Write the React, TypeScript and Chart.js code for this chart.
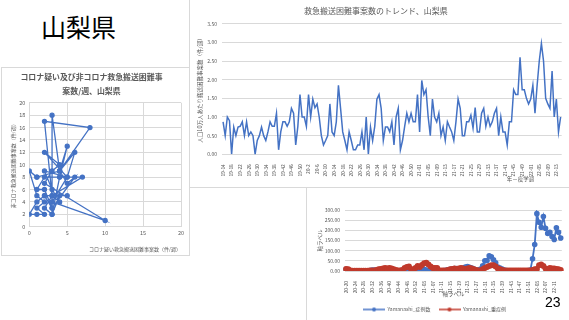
import React, { useEffect, useRef } from "react";
import { Chart, registerables } from "chart.js";
Chart.register(...registerables);

const FONT = '"Noto Sans CJK JP", "Noto Sans", sans-serif';
const TEXT = "#595959";
const GRID = "#d9d9d9";
const BLUE = "#4472C4";
const RED = "#C0392B";

// ---- Scatter: corona-suspected vs non-corona (cases / week) ----
const coronaSuspected = [1, 0, 1, 2, 1, 2, 1, 0, 1, 2, 3, 2, 1, 2, 4, 3, 2, 3, 4, 3, 2, 5, 3, 10, 2, 3, 4, 2, 5, 6, 4, 5, 4, 7, 3, 2, 8, 4, 3, 3, 4, 5, 2, 3, 6, 5, 4, 1];
const nonCorona = [8, 9, 5, 4, 3, 2, 2, 2, 4, 5, 3, 6, 6, 8, 8, 2, 3, 5, 4, 6, 9, 8, 4, 1, 7, 9, 10, 12, 8, 12, 9, 13, 8, 8, 5, 17, 16, 9, 18, 2, 5, 5, 5, 3, 8, 7, 9, 8];

// ---- Trend: per 100k population, weekly ----
const trendTickLabels = ["19-14", "19-18", "19-22", "19-26", "19-30", "19-34", "19-38", "19-42", "19-46", "19-50", "20-2", "20-6", "20-10", "20-14", "20-18", "20-22", "20-26", "20-30", "20-34", "20-38", "20-42", "20-46", "20-50", "21-01", "21-05", "21-09", "21-13", "21-17", "21-21", "21-25", "21-29", "21-33", "21-37", "21-41", "21-45", "21-49", "22-01", "22-05", "22-09", "22-13"];
const trendValues = [
  0.87, 0.5, 1.0, 0.9, 0.0, 0.73, 0.5, 0.73, 0.75, 0.87,
  0.5, 0.87, 0.5, 0.6, 0.5, 0.0, 0.37, 0.5, 0.73, 0.5,
  0.37, 0.6, 0.87, 0.75, 0.75, 1.1, 0.12, 0.6, 0.87, 0.87,
  0.75, 0.87, 1.23, 1.1, 0.25, 0.75, 1.6, 1.0, 1.0, 0.75,
  1.6, 1.0, 1.48, 1.25, 1.35, 1.0, 0.5, 0.25, 0.37, 0.5,
  1.35, 0.6, 0.5, 0.87, 1.85, 1.23, 0.6, 0.37, 0.12, 0.6,
  0.37, 0.12, 0.12, 0.25, 0.25, 0.6, 0.12, 1.0, 0.0, 0.73,
  0.37, 0.75, 1.48, 1.6, 1.23, 0.37, 0.73, 0.73, 0.6, 0.87,
  0.25, 1.0, 1.23, 0.12, 0.37, 0.75, 1.1, 0.87, 1.1, 0.87,
  0.87, 1.6, 0.6, 1.98, 1.6, 1.73, 1.0, 0.5, 1.48, 1.0,
  0.87, 1.1, 0.5, 0.73, 0.37, 0.87, 0.73, 0.6, 0.37, 0.87,
  1.48, 1.23, 0.5, 0.5, 0.87, 0.87, 1.05, 0.7, 1.25, 0.6,
  0.6, 1.1, 1.23, 0.75, 1.0, 0.75, 0.87, 1.1, 1.23, 0.5,
  1.0, 0.6, 0.6, 0.25, 0.87, 0.87, 1.73, 1.6, 1.6, 2.6,
  1.73, 1.73, 1.5, 1.35, 1.48, 1.85, 1.1, 1.85, 2.5, 2.97,
  2.5, 1.5, 1.35, 1.23, 2.23, 1.0, 1.48, 0.6, 1.0,
];

// ---- Cases vs severe cases ----
const caseTickLabels = ["20-20", "20-24", "20-28", "20-32", "20-36", "20-40", "20-44", "20-48", "20-52", "21-03", "21-07", "21-11", "21-15", "21-19", "21-23", "21-27", "21-31", "21-35", "21-39", "21-43", "21-47", "21-51", "22-03", "22-07", "22-11"];
const cases = [
  8, 2, 0, 0, 0, 0, 0, 0, 0, 0,
  0, 2, 5, 5, 3, 3, 6, 5, 3, 2,
  1, 0, 0, 0, 0, 2, 3, 5, 8, 3,
  2, 5, 10, 8, 15, 12, 8, 5, 3, 2,
  2, 1, 0, 0, 0, 2, 4, 6, 8, 10,
  12, 12, 10, 12, 15, 20, 22, 18, 15, 10,
  5, 5, 10, 25, 50, 52, 75, 70, 55, 40,
  20, 15, 10, 5, 2, 0, 0, 0, 0, 0,
  0, 0, 0, 0, 2, 5, 60, 130, 282, 240,
  215, 268, 210, 185, 190, 170, 155, 213, 190, 162,
];
const severe = [
  10, 8, 2, 1, 1, 1, 1, 1, 1, 1,
  1, 2, 3, 3, 5, 8, 10, 12, 15, 12,
  15, 12, 8, 5, 3, 3, 5, 15, 20, 22,
  10, 3, 15, 25, 20, 30, 38, 40, 32, 22,
  15, 15, 15, 3, 2, 2, 2, 5, 8, 10,
  12, 10, 12, 15, 12, 10, 12, 15, 12, 8,
  5, 3, 3, 8, 15, 20, 25, 28, 28, 22,
  12, 8, 5, 3, 2, 2, 2, 2, 2, 2,
  2, 2, 2, 2, 2, 2, 5, 8, 10, 28,
  32, 25, 12, 10, 15, 12, 12, 10, 8, 5,
];

function weekLabels(ticks: string[], n: number): string[] {
  const out: string[] = [];
  for (let i = 0; i < n; i++) out.push(i % 4 === 0 && ticks[i / 4] ? ticks[i / 4] : "");
  return out;
}

function legendIcon(color: string): HTMLCanvasElement {
  const c = document.createElement("canvas");
  c.width = 22;
  c.height = 6;
  const ctx = c.getContext("2d")!;
  ctx.strokeStyle = color;
  ctx.lineWidth = 1.5;
  ctx.beginPath();
  ctx.moveTo(0, 3);
  ctx.lineTo(22, 3);
  ctx.stroke();
  ctx.fillStyle = color;
  ctx.beginPath();
  ctx.arc(11, 3, 2, 0, Math.PI * 2);
  ctx.fill();
  return c;
}

const font = (size: number, weight: any = "normal") => ({ family: FONT, size, weight, lineHeight: 1.3 });

function ScatterChart() {
  const ref = useRef<HTMLCanvasElement>(null);
  useEffect(() => {
    const pts = coronaSuspected.map((x, i) => ({ x, y: nonCorona[i] }));
    const chart = new Chart(ref.current!, {
      type: "scatter",
      data: {
        datasets: [
          {
            data: pts,
            showLine: true,
            borderColor: BLUE,
            backgroundColor: BLUE,
            borderWidth: 1.3,
            pointRadius: 2,
          },
        ],
      },
      options: {
        responsive: false,
        animation: false,
        events: [],
        layout: { padding: { left: 0, right: 8, top: 0, bottom: 0 } },
        plugins: {
          legend: { display: false },
          tooltip: { enabled: false },
          title: {
            display: true,
            text: ["コロナ疑い及び非コロナ救急搬送困難事", "案数/週、山梨県"],
            color: TEXT,
            font: { family: FONT, size: 7.9, weight: "bold", lineHeight: 1.7 },
            padding: { top: 2.6, bottom: 5.3 },
          },
        },
        scales: {
          x: {
            type: "linear",
            min: 0,
            max: 20,
            ticks: { stepSize: 5, color: TEXT, font: font(5.5), padding: 3 },
            grid: { color: GRID, drawTicks: false },
            border: { display: false },
            title: {
              display: true,
              text: "コロナ疑い救急搬送困難事案数（件/週）",
              align: "end",
              color: TEXT,
              font: font(5),
              padding: { top: 0, bottom: 3 },
            },
            afterFit: (s: any) => { s.height = 28.3; },
          },
          y: {
            min: 0,
            max: 20,
            ticks: { stepSize: 2, color: TEXT, font: font(5.5), padding: 4 },
            grid: { color: GRID, drawTicks: false },
            border: { display: false },
            title: {
              display: true,
              text: "非コロナ救急搬送困難事案数（件/週）",
              color: TEXT,
              font: font(5),
              padding: { top: 7.5, bottom: 0 },
            },
            afterFit: (s: any) => { s.width = 27.3; },
          },
        },
      } as any,
    });
    return () => chart.destroy();
  }, []);
  return <canvas ref={ref} width={187} height={187} style={{ width: 187, height: 187, display: "block" }} />;
}

function TrendChart() {
  const ref = useRef<HTMLCanvasElement>(null);
  useEffect(() => {
    const labels = weekLabels(trendTickLabels, trendValues.length);
    const chart = new Chart(ref.current!, {
      type: "line",
      data: {
        labels,
        datasets: [
          {
            data: trendValues,
            borderColor: BLUE,
            borderWidth: 1.5,
            pointRadius: 0,
            tension: 0,
          },
        ],
      },
      options: {
        responsive: false,
        animation: false,
        events: [],
        layout: { padding: { left: 0, right: 7.3, top: 0, bottom: 0 } },
        plugins: {
          legend: { display: false },
          tooltip: { enabled: false },
          title: {
            display: true,
            text: "救急搬送困難事案数のトレンド、山梨県",
            color: TEXT,
            font: font(8),
            padding: { top: 4.8, bottom: 7.5 },
          },
        },
        scales: {
          x: {
            type: "category",
            offset: true,
            ticks: {
              autoSkip: false,
              minRotation: 90,
              maxRotation: 90,
              color: TEXT,
              font: font(4.8),
              padding: 2,
            },
            grid: { display: false },
            border: { display: false },
            title: {
              display: true,
              text: "年－疫学週　　　　　",
              align: "end",
              color: TEXT,
              font: font(5.5),
              padding: { top: 0, bottom: 5.5 },
            },
            afterFit: (s: any) => { s.height = 33.7; },
          },
          y: {
            min: 0,
            max: 3.5,
            ticks: {
              stepSize: 0.5,
              color: TEXT,
              font: font(5),
              padding: 5,
              callback: (v: any) => Number(v).toFixed(2),
            },
            grid: { color: GRID, drawTicks: false },
            border: { display: false },
            title: {
              display: true,
              text: "人口10万人あたり搬送困難事案数（件/週）",
              color: TEXT,
              font: font(5.5),
              padding: { top: 6.5, bottom: 0 },
            },
            afterFit: (s: any) => { s.width = 32; },
          },
        },
      } as any,
    });
    return () => chart.destroy();
  }, []);
  return <canvas ref={ref} width={379} height={187} style={{ width: 379, height: 187, display: "block" }} />;
}

function CasesChart() {
  const ref = useRef<HTMLCanvasElement>(null);
  useEffect(() => {
    const labels = weekLabels(caseTickLabels, cases.length);
    const icons = [legendIcon(BLUE), legendIcon(RED)];
    const chart = new Chart(ref.current!, {
      type: "line",
      data: {
        labels,
        datasets: [
          {
            label: "Yamanashi_症例数",
            data: cases,
            borderColor: BLUE,
            backgroundColor: BLUE,
            borderWidth: 1.8,
            pointRadius: 1.9,
            order: 2,
          },
          {
            label: "Yamanashi_重症例",
            data: severe,
            borderColor: RED,
            backgroundColor: RED,
            borderWidth: 2,
            pointRadius: 2,
            order: 1,
          },
        ],
      },
      options: {
        responsive: false,
        animation: false,
        events: [],
        layout: { padding: { left: 0, right: 7, top: 22, bottom: 0 } },
        plugins: {
          tooltip: { enabled: false },
          legend: {
            display: true,
            position: "bottom",
            labels: {
              color: TEXT,
              font: font(5),
              usePointStyle: true,
              pointStyleWidth: 22,
              padding: 8,
              generateLabels: (ch: any) =>
                ch.data.datasets.map((d: any, i: number) => ({
                  text: d.label,
                  pointStyle: icons[i],
                  fillStyle: d.borderColor,
                  strokeStyle: d.borderColor,
                  fontColor: TEXT,
                  lineWidth: 0,
                  hidden: false,
                  datasetIndex: i,
                })),
            },
          },
        },
        scales: {
          x: {
            type: "category",
            offset: true,
            ticks: {
              autoSkip: false,
              minRotation: 90,
              maxRotation: 90,
              color: TEXT,
              font: font(4.8),
              padding: 2,
            },
            grid: { display: false },
            border: { display: false },
            title: {
              display: true,
              text: "軸ラベル",
              color: TEXT,
              font: font(5.5),
              padding: { top: 0, bottom: 2 },
            },
            afterFit: (s: any) => { s.height = 28; },
          },
          y: {
            min: 0,
            max: 300,
            ticks: {
              stepSize: 50,
              color: TEXT,
              font: font(5),
              padding: 5,
              callback: (v: any) => Number(v).toFixed(2),
            },
            grid: { color: GRID, drawTicks: false },
            border: { display: false },
            title: {
              display: true,
              text: "軸ラベル",
              color: TEXT,
              font: font(5.5),
              padding: { top: 9, bottom: 0 },
            },
            afterFit: (s: any) => { s.width = 38; },
          },
        },
      } as any,
    });
    return () => chart.destroy();
  }, []);
  return <canvas ref={ref} width={262} height={134} style={{ width: 262, height: 134, display: "block" }} />;
}

export default function App() {
  const panel = (l: number, t: number, w: number, h: number): React.CSSProperties => ({
    position: "absolute",
    left: l,
    top: t,
    width: w,
    height: h,
    boxSizing: "border-box",
    border: "1px solid #d9d9d9",
    background: "#fff",
    overflow: "hidden",
  });
  return (
    <div style={{ position: "fixed", left: 0, top: 0, width: 569, height: 320, background: "#fff", overflow: "hidden", fontFamily: FONT }}>
      <div style={{ position: "absolute", left: 41, top: 9, fontSize: 25, lineHeight: "34px", color: "#000", fontFamily: FONT }}>山梨県</div>
      <div style={panel(1, 67, 189, 189)}>
        <div style={{ position: "absolute", left: 0, top: 0 }}>
          <ScatterChart />
        </div>
      </div>
      <div style={panel(189, -1, 382, 189)}>
        <div style={{ position: "absolute", left: 0, top: 1 }}>
          <TrendChart />
        </div>
      </div>
      <div style={panel(306, 187, 265, 136)}>
        <div style={{ position: "absolute", left: 0, top: 0 }}>
          <CasesChart />
        </div>
      </div>
      <div style={{ position: "absolute", left: 545, top: 292, fontSize: 14, lineHeight: "20px", color: "#000", fontFamily: '"Liberation Sans", Arial, sans-serif' }}>23</div>
    </div>
  );
}
